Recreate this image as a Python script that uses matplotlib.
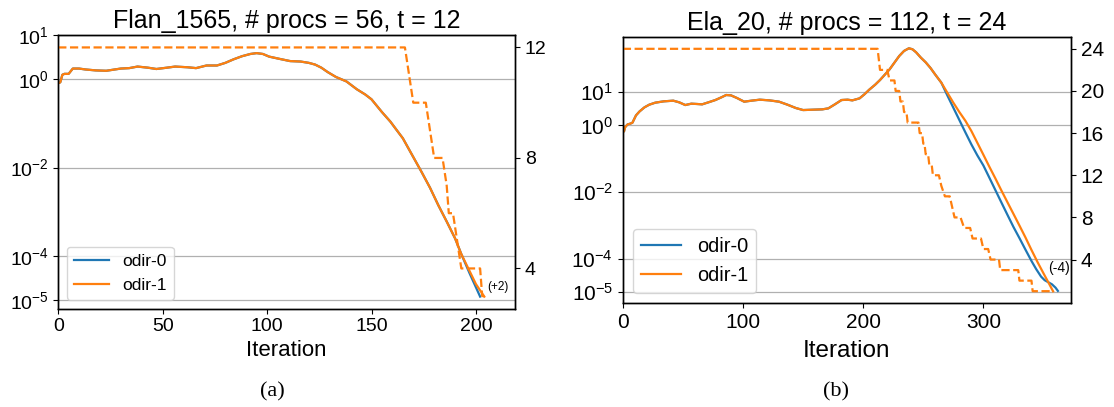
import matplotlib
matplotlib.use("Agg")
import matplotlib.pyplot as plt
from matplotlib.ticker import NullLocator

plt.rcParams['font.family'] = ['Liberation Sans', 'DejaVu Sans']
plt.rcParams['mathtext.fontset'] = 'custom'
plt.rcParams['mathtext.rm'] = 'Liberation Sans'
plt.rcParams['mathtext.it'] = 'Liberation Sans:italic'
plt.rcParams['mathtext.bf'] = 'Liberation Sans:bold'

BLUE = '#1f77b4'
ORANGE = '#ff7f0e'

# ---- Flan_1565: residual per iteration ----
flan_it_common = [0, 1, 2, 3, 5, 7, 10, 13, 18, 23, 30, 34, 38, 43, 47, 52, 56, 62, 66,
                  71, 76, 80, 84, 88, 92, 95, 98, 101, 106, 111, 116, 120, 123, 126, 129,
                  133, 138, 143, 147, 150, 155, 159, 162, 165, 169, 174, 178, 182, 186,
                  190, 193]
flan_res_common = [0.81, 0.85, 1.26, 1.32, 1.32, 1.74, 1.74, 1.66, 1.58, 1.55, 1.74, 1.78,
                   1.93, 1.82, 1.70, 1.82, 1.93, 1.86, 1.78, 2.04, 2.04, 2.34, 2.82, 3.31,
                   3.72, 3.89, 3.72, 3.24, 2.88, 2.57, 2.51, 2.34, 2.14, 1.82, 1.45, 1.12,
                   0.89, 0.59, 0.45, 0.35, 0.18, 0.11, 0.071, 0.046, 0.021, 7.9e-3, 3.5e-3,
                   1.4e-3, 6.0e-4, 2.5e-4, 1.1e-4]
flan_it_tail0 = [197, 202]
flan_res_tail0 = [4.0e-5, 1.2e-5]
flan_it_tail1 = [197, 200, 204]
flan_res_tail1 = [4.5e-5, 2.3e-5, 1.2e-5]

# t for odir-1
flan_t_it = [0, 166, 168, 170, 176, 178, 180, 184, 186, 187, 189, 191, 193, 202, 203, 204]
flan_t = [12, 12, 11, 10, 10, 9, 8, 8, 7, 6, 6, 5, 4, 4, 3, 3]

# ---- Ela_20: residual per iteration ----
ela_it_common = [0, 1, 2, 4, 6, 8, 11, 14, 18, 22, 27, 34, 42, 47, 52, 57, 62, 66, 72, 77,
                 82, 86, 90, 95, 101, 107, 114, 122, 130, 137, 144, 150, 158, 166, 171,
                 176, 182, 187, 191, 197, 201, 205, 210, 214, 218, 222, 226, 230, 234, 238,
                 241, 244, 248, 252, 256, 260, 265]
ela_res_common = [1.02, 0.66, 0.89, 1.07, 1.12, 1.20, 2.0, 2.63, 3.47, 4.17, 4.79, 5.25,
                  5.50, 4.90, 4.07, 4.47, 4.37, 4.27, 5.01, 5.75, 6.92, 8.13, 7.94, 6.61,
                  5.13, 5.50, 5.89, 5.62, 5.13, 4.17, 3.31, 2.88, 2.95, 3.02, 3.24, 4.17,
                  5.75, 5.89, 5.62, 6.46, 8.51, 11.7, 16.6, 22.9, 33.1, 47.9, 75.9, 120,
                  170, 204, 191, 155, 107, 77.6, 52.5, 33.1, 19.1]
ela_it_tail0 = [270, 275, 280, 285, 290, 295, 300, 305, 310, 315, 320, 325, 330, 335, 340,
                344, 348, 351, 354, 357, 360, 362]
ela_res_tail0 = [7.94, 3.39, 1.45, 0.62, 0.27, 0.126, 0.063, 0.027, 0.0115, 4.9e-3, 2.1e-3,
                 9.1e-4, 4.2e-4, 1.9e-4, 8.7e-5, 4.9e-5, 2.95e-5, 2.3e-5, 2.0e-5, 1.74e-5,
                 1.38e-5, 1.1e-5]
ela_it_tail1 = [270, 275, 280, 285, 290, 295, 300, 305, 310, 315, 320, 325, 330, 335, 340,
                345, 350, 354, 358]
ela_res_tail1 = [9.55, 4.79, 2.51, 1.38, 0.68, 0.30, 0.132, 0.0575, 0.0257, 0.0112, 5.0e-3,
                 2.24e-3, 1.0e-3, 4.4e-4, 1.86e-4, 8.1e-5, 3.7e-5, 2.0e-5, 1.07e-5]

ela_t_it = [0, 212, 214, 220, 222, 226, 227, 230, 231, 233, 234, 236, 237, 246, 247, 249,
            250, 251, 252, 254, 255, 257, 258, 263, 265, 268, 272, 274, 276, 281, 284, 289,
            291, 298, 300, 304, 306, 313, 314, 329, 330, 340, 341, 358]
ela_t = [24, 24, 22, 22, 21, 21, 20, 20, 19, 19, 18, 18, 17, 17, 16, 16, 15, 15, 14, 14, 13,
         13, 12, 12, 11, 10, 10, 9, 8, 8, 7, 7, 6, 6, 5, 5, 4, 4, 3, 3, 2, 2, 1, 1]

res_ticks = [1e1, 1e0, 1e-2, 1e-4, 1e-5]
res_labels = [r'$10^{1}$', r'$10^{0}$', r'$10^{-2}$', r'$10^{-4}$', r'$10^{-5}$']


def panel(ax, title, it0, res0, it1, res1, t_it, t_vals, xlim, ylim, xticks, tticks,
          note, note_xy, fs):
    ax.plot(it0, res0, color=BLUE, lw=1.6, label='odir-0')
    ax.plot(it1, res1, color=ORANGE, lw=1.6, label='odir-1')
    ax.set_yscale('log')
    ax.set_ylim(*ylim)
    ax.set_yticks(res_ticks)
    ax.set_yticklabels(res_labels)
    ax.yaxis.set_minor_locator(NullLocator())
    ax.grid(axis='y', color='#b0b0b0', lw=0.9)
    ax.set_xticks(xticks)
    ax.tick_params(labelsize=fs['tick'])
    ax.set_xlabel('Iteration', fontsize=fs['xlabel'], labelpad=fs['labelpad'])
    ax.set_title(title, fontsize=18, pad=5)
    ax.legend(loc='lower left', fontsize=fs['legend'])
    ax.text(note_xy[0], note_xy[1], note, fontsize=fs['note'], ha='center', va='center')

    ax2 = ax.twinx()
    ax2.plot(t_it, t_vals, '--', color=ORANGE, lw=1.6)
    ax2.set_yticks(tticks)
    ax2.tick_params(labelsize=fs['tick'])
    ax.set_xlim(*xlim)
    for a in (ax, ax2):
        for s in a.spines.values():
            s.set_linewidth(1.0)


fig = plt.figure(figsize=(11.14, 4.07), dpi=100)
W, H = 1114, 407

ax_a = fig.add_axes([58.2 / W, 1 - 308.5 / H, (515 - 58.2) / W, (308.5 - 35) / H])
panel(ax_a, 'Flan_1565, # procs = 56, t = 12',
      flan_it_common + flan_it_tail0, flan_res_common + flan_res_tail0,
      flan_it_common + flan_it_tail1, flan_res_common + flan_res_tail1,
      flan_t_it, flan_t, (0, 218.7), (10 ** -5.19, 10), [0, 50, 100, 150, 200], [4, 8, 12],
      '(+2)', (210.5, 10 ** -4.71),
      {'tick': 14, 'xlabel': 16, 'legend': 12.5, 'note': 8.5, 'labelpad': 3.5})

ax_b = fig.add_axes([622.8 / W, 1 - 303.3 / H, (1071 - 622.8) / W, (303.3 - 36.7) / H])
panel(ax_b, 'Ela_20, # procs = 112, t = 24',
      ela_it_common + ela_it_tail0, ela_res_common + ela_res_tail0,
      ela_it_common + ela_it_tail1, ela_res_common + ela_res_tail1,
      ela_t_it, ela_t, (0, 372.9), (10 ** -5.33, 10 ** 2.657), [0, 100, 200, 300],
      [4, 8, 12, 16, 20, 24],
      '(-4)', (362.6, 10 ** -4.26),
      {'tick': 15, 'xlabel': 17.5, 'legend': 14.4, 'note': 10, 'labelpad': 6})

fig.text(272 / W, 1 - 392 / H, '(a)', ha='center', va='center',
         fontfamily='Liberation Serif', fontsize=16)
fig.text(836 / W, 1 - 392 / H, '(b)', ha='center', va='center',
         fontfamily='Liberation Serif', fontsize=16)

fig.savefig('out.png', dpi=100)
